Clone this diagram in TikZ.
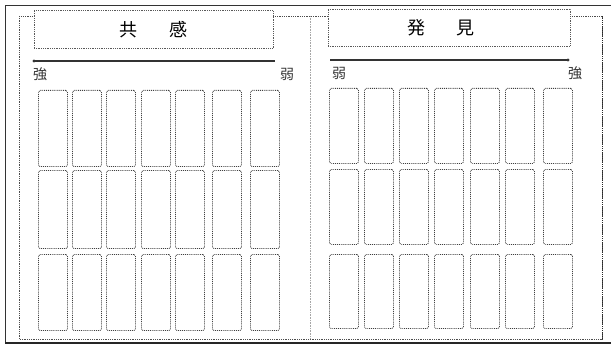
\documentclass[tikz,border=0pt]{standalone}
\usepackage{fontspec}
\newfontfamily\jpfont{Noto Sans CJK JP}
\begin{document}
\begin{tikzpicture}[x=1pt,y=-1pt]
      \tikzset{dot/.style={circle,fill,inner sep=1.2pt}}
      \tikzset{cell/.style={draw=black!75,densely dotted,line width=.9pt,rounded corners=1.5pt,inner sep=0pt,minimum width=29pt}}
      \tikzset{title/.style={draw=black!65,densely dotted,line width=.8pt,fill=white,inner sep=0pt}}
      \tikzset{lbl/.style={font=\jpfont\fontsize{14}{14}\selectfont,text=black!80}}
      \useasboundingbox (0,0) rectangle (611,345);
      % page frame
      \draw[black!80,line width=.8pt] (611,5) -- (5,5) -- (5,343);
      \draw[black!85,line width=1.6pt] (5,343) -- (611,343);
      % panel frame
      \draw[black!70,densely dotted,line width=.8pt] (19,16) rectangle (602,339);
      \draw[black!85,densely dotted,line width=1pt] (602,16) -- (602,339);
      \draw[black!35,densely dotted,line width=.6pt] (310,16) -- (310,339);
      % titles
      \node[title,minimum width=239pt,minimum height=38pt] (kyokan) at (153.5,29.5) {};
      \node[font=\jpfont\fontsize{18}{18}\selectfont] (kyokantxt) at (kyokan) {共\hspace{1.75em}感};
      \node[title,minimum width=242pt,minimum height=37pt] (hakken) at (449,28) {};
      \node[font=\jpfont\fontsize{18}{18}\selectfont] (hakkentxt) at (441,28) {発\hspace{1.75em}見};
      % scales
      \coordinate (a1) at (34,61);
      \coordinate (a2) at (275,61);
      \draw[black!80,line width=1.1pt] (a1) -- (a2);
      \node[dot,black!80] (d1) at (a1) {};
      \node[lbl] (strongL) at (40,74) {強};
      \node[lbl] (weakL) at (287,74) {弱};
      \coordinate (b1) at (330,60);
      \coordinate (b2) at (568,60);
      \draw[black!80,line width=1.1pt] (b1) -- (b2);
      \node[dot,black!80] (d2) at (b2) {};
      \node[lbl] (weakR) at (339,73) {弱};
      \node[lbl] (strongR) at (575,73) {強};
      % cells
      \foreach \c/\x in {1/38,2/72,3/106,4/141,5/175,6/212,7/250}
        \foreach \r/\top/\bot in {1/90/166,2/170/248,3/254/330}
          \node[cell,anchor=north west,minimum height={(\bot-\top)*1pt}] (L-\r-\c) at (\x,\top) {};
      \foreach \c/\x in {1/329,2/364,3/399,4/434,5/470,6/505,7/543}
        \foreach \r/\top/\bot in {1/88/163,2/169/244,3/254/328}
          \node[cell,anchor=north west,minimum height={(\bot-\top)*1pt}] (R-\r-\c) at (\x,\top) {};
\end{tikzpicture}
\end{document}
